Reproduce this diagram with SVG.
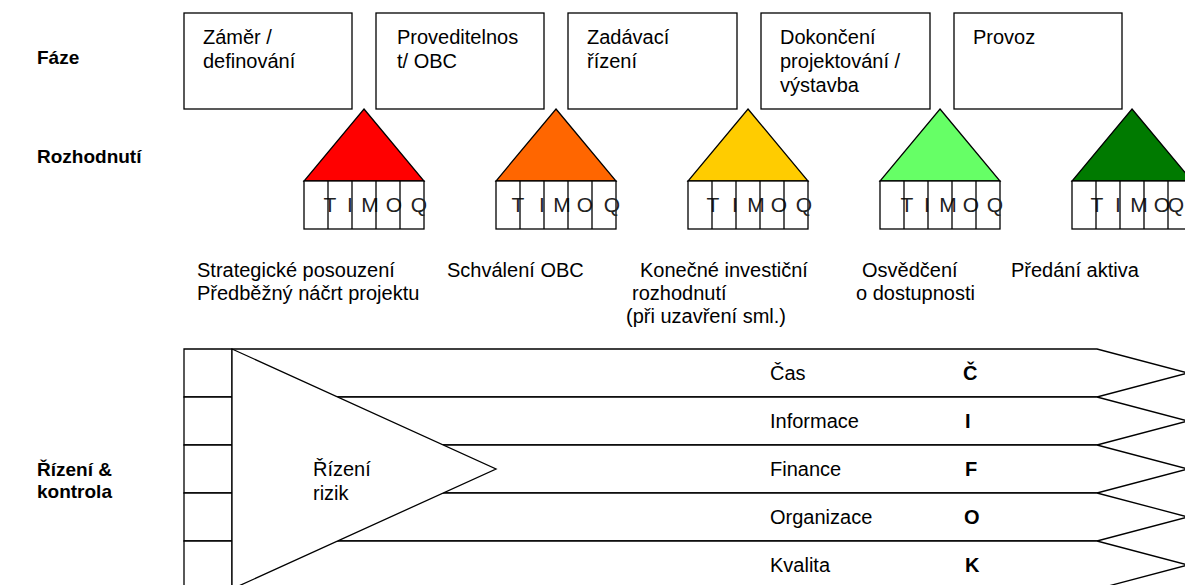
<svg xmlns="http://www.w3.org/2000/svg" width="1185" height="585" viewBox="0 0 1185 585">
<style>
text{font-family:"Liberation Sans",Arial,sans-serif;font-size:20px;fill:#000}
.lbl{font-weight:bold;font-size:19px}
.b{font-weight:bold}
.box{fill:#fff;stroke:#000;stroke-width:1.3}
.tri{stroke:#000;stroke-width:1.3}
.cell{fill:#fff;stroke:#000;stroke-width:1.3}
.ln{stroke:#000;stroke-width:1.3;fill:none}
.let{fill:#222;text-anchor:middle;font-size:21px}
.row{fill:#fff;stroke:#000;stroke-width:1.3}
</style>
<rect width="1185" height="585" fill="#fff"/>
<g id="labels">
<text class="lbl" x="37" y="64">Fáze</text>
<text class="lbl" x="37" y="163">Rozhodnutí</text>
<text class="lbl" x="37" y="476">Řízení &amp;</text>
<text class="lbl" x="37" y="498">kontrola</text>
</g>
<g id="phase1"><rect class="box" x="184" y="13" width="168" height="96"/><text x="203" y="44">Záměr /</text><text x="203" y="68">definování</text></g>
<g id="phase2"><rect class="box" x="376" y="13" width="168" height="96"/><text x="397" y="44">Proveditelnos</text><text x="397" y="68">t/ OBC</text></g>
<g id="phase3"><rect class="box" x="568" y="13" width="169" height="96"/><text x="587" y="44">Zadávací</text><text x="587" y="68">řízení</text></g>
<g id="phase4"><rect class="box" x="761" y="13" width="169" height="96"/><text x="780" y="44">Dokončení</text><text x="780" y="68">projektování /</text><text x="780" y="92">výstavba</text></g>
<g id="phase5"><rect class="box" x="954" y="13" width="168" height="96"/><text x="973" y="44">Provoz</text></g>

<g id="decision1">
<polygon class="tri" fill="#FF0000" points="364,109 424,181 304,181"/>
<rect class="cell" x="304" y="181" width="120" height="48"/>
<text class="let" x="330 350 370 394 419" y="212">TIMOQ</text>
<path class="ln" d="M328 181V229M352 181V229M376 181V229M400 181V229"/>
</g>
<g id="decision2">
<polygon class="tri" fill="#FF6600" points="556,109 616,181 496,181"/>
<rect class="cell" x="496" y="181" width="120" height="48"/>
<text class="let" x="518 542 562 585 612" y="212">TIMOQ</text>
<path class="ln" d="M520 181V229M544 181V229M568 181V229M592 181V229"/>
</g>
<g id="decision3">
<polygon class="tri" fill="#FFCC00" points="748,109 808,181 688,181"/>
<rect class="cell" x="688" y="181" width="120" height="48"/>
<text class="let" x="713 735 756 779 804" y="212">TIMOQ</text>
<path class="ln" d="M712 181V229M736 181V229M760 181V229M784 181V229"/>
</g>
<g id="decision4">
<polygon class="tri" fill="#66FF66" points="940,109 1000,181 880,181"/>
<rect class="cell" x="880" y="181" width="120" height="48"/>
<text class="let" x="907 927 948 971 995" y="212">TIMOQ</text>
<path class="ln" d="M904 181V229M928 181V229M952 181V229M976 181V229"/>
</g>
<g id="decision5">
<polygon class="tri" fill="#007A00" points="1132,109 1192,181 1072,181"/>
<rect class="cell" x="1072" y="181" width="120" height="48"/>
<text class="let" x="1097 1118 1139 1162 1176" y="212">TIMOQ</text>
<path class="ln" d="M1096 181V229M1120 181V229M1144 181V229M1168 181V229"/>
</g>

<g id="milestones">
<text x="197" y="277">Strategické posouzení</text>
<text x="197" y="300">Předběžný náčrt projektu</text>
<text x="447" y="277">Schválení OBC</text>
<text x="640" y="277">Konečné investiční</text>
<text x="632" y="300">rozhodnutí</text>
<text x="626" y="323">(při uzavření sml.)</text>
<text x="862" y="277">Osvědčení</text>
<text x="856" y="300">o dostupnosti</text>
<text x="1011" y="277">Předání aktiva</text>
</g>

<g id="controls">
<g id="row1"><polygon class="row" points="184,349 1097,349 1188,373 1097,397 184,397"/><text x="770" y="380">Čas</text><text class="b" x="963" y="380">Č</text></g>
<g id="row2"><polygon class="row" points="184,397 1097,397 1188,421 1097,445 184,445"/><text x="770" y="428">Informace</text><text class="b" x="965" y="428">I</text></g>
<g id="row3"><polygon class="row" points="184,445 1097,445 1188,469 1097,493 184,493"/><text x="770" y="476">Finance</text><text class="b" x="965" y="476">F</text></g>
<g id="row4"><polygon class="row" points="184,493 1097,493 1188,517 1097,541 184,541"/><text x="770" y="524">Organizace</text><text class="b" x="964" y="524">O</text></g>
<g id="row5"><polygon class="row" points="184,541 1097,541 1188,565 1097,589 184,589"/><text x="770" y="572">Kvalita</text><text class="b" x="965" y="572">K</text></g>
</g>
<g id="risk">
<line class="ln" x1="232" y1="349" x2="232" y2="589"/>
<polygon class="row" points="232,349 496,469 232,589"/>
<text x="313" y="476">Řízení</text>
<text x="313" y="500">rizik</text>
</g>
<g id="connectors"></g>
</svg>
